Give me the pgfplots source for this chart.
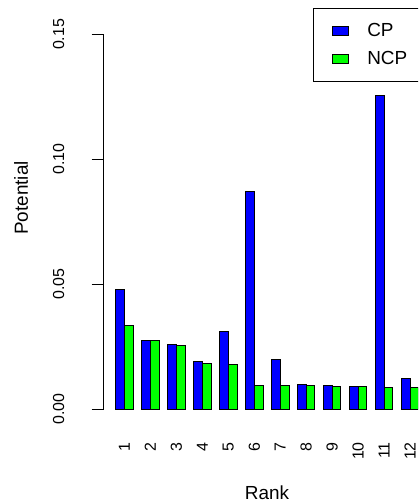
\documentclass[border=0pt]{standalone}
\usepackage{pgfplots}
\pgfplotsset{compat=1.18}
\usepackage{fontspec}
\setmainfont{Liberation Sans}
\definecolor{rblue}{RGB}{0,0,255}
\definecolor{rgreen}{RGB}{0,255,0}
\begin{document}
\begin{tikzpicture}[x=1bp,y=1bp]
\path[use as bounding box,clip] (0,0) rectangle (418,503);
\begin{axis}[
  at={(103.6bp,79bp)}, anchor=south west,
  scale only axis, width=327.3bp, height=404.5bp,
  xmin=-0.4, xmax=37.4, ymin=-0.006, ymax=0.156,
  axis line style={draw=none},
  xtick={2,5,8,11,14,17,20,23,26,29,32,35},
  xticklabels={1,2,3,4,5,6,7,8,9,10,11,12},
  xtick style={draw=none},
  xticklabel style={rotate=90,anchor=east,inner sep=0pt,font=\fontsize{16}{19}\selectfont},
  xticklabel shift=6bp,
  ytick={0,0.05,0.10,0.15},
  ytick pos=left, ytick align=outside,
  major tick length=12bp,
  ytick style={black,line width=0.8bp},
  yticklabel style={rotate=90,anchor=south,inner sep=0pt,font=\fontsize{16}{19}\selectfont,
    /pgf/number format/.cd,fixed,fixed zerofill,precision=2,assume math mode=true},
  yticklabel shift=27bp,
  scaled y ticks=false,
  ybar, bar width=1, bar shift=0pt,
  clip=false,
  legend style={at={(0.640,1.028)}, anchor=north west, draw=black, line width=0.8bp,
    font=\fontsize{19}{22}\selectfont, inner xsep=19bp, inner ysep=15bp,
    nodes={inner sep=0pt}, column sep=18bp, row sep=13bp},
  legend cell align=left,
  legend image code/.code={\draw[#1,line width=0.8bp] (0bp,-4.5bp) rectangle (16bp,4.5bp);},
]
\addplot[fill=rblue, draw=black, line width=0.8bp] coordinates {
 (1.5,0.0479) (4.5,0.0275) (7.5,0.0259) (10.5,0.0192) (13.5,0.0311) (16.5,0.0871)
 (19.5,0.0199) (22.5,0.0099) (25.5,0.0093) (28.5,0.0092) (31.5,0.1256) (34.5,0.0124)};
\addplot[fill=rgreen, draw=black, line width=0.8bp] coordinates {
 (2.5,0.0335) (5.5,0.0274) (8.5,0.0255) (11.5,0.0184) (14.5,0.0179) (17.5,0.0095)
 (20.5,0.0093) (23.5,0.0093) (26.5,0.0090) (29.5,0.0089) (32.5,0.0088) (35.5,0.0085)};
\legend{CP,NCP}
\draw[black,line width=0.8bp] (axis cs:-0.4,0) -- (axis cs:-0.4,0.15);
\end{axis}
\node[anchor=base,font=\fontsize{19}{22}\selectfont] at (267,3) {Rank};
\node[rotate=90,font=\fontsize{19}{22}\selectfont] at (21,305) {Potential};
\end{tikzpicture}
\end{document}
